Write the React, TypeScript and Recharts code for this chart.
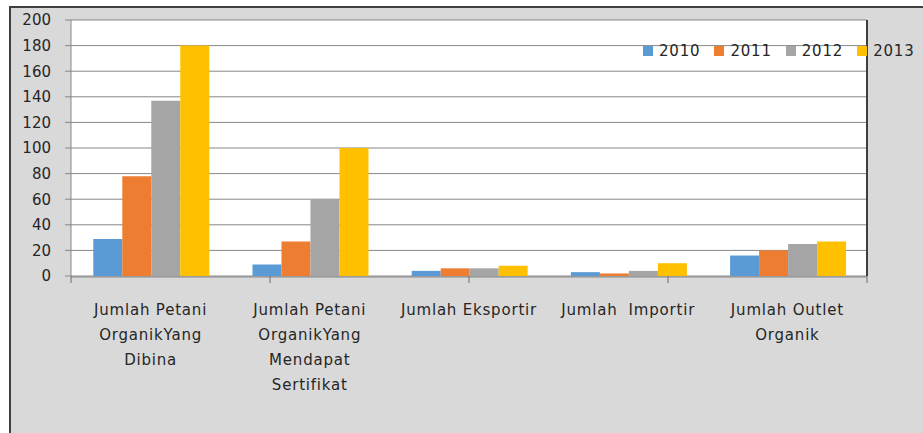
import { Bar, BarChart, CartesianGrid, Legend, XAxis, YAxis } from "recharts";

const categories = [
  "Jumlah Petani\nOrganikYang\nDibina",
  "Jumlah Petani\nOrganikYang\nMendapat\nSertifikat",
  "Jumlah Eksportir",
  "Jumlah  Importir",
  "Jumlah Outlet\nOrganik",
];
const years = ["2010", "2011", "2012", "2013"];
const values2010 = [29, 9, 4, 3, 16];
const values2011 = [78, 27, 6, 2, 20];
const values2012 = [137, 60, 6, 4, 25];
const values2013 = [180, 100, 8, 10, 27];
const yTicks = [0, 20, 40, 60, 80, 100, 120, 140, 160, 180, 200];
const boundaryTicks = [0, 1, 2, 3, 4, 5];

const colors = ["#5B9BD5", "#ED7D31", "#A5A5A5", "#FFC000"];
const font = "'DejaVu Sans', sans-serif";
const textColor = "#262626";

const data = categories.map((name, i) => ({
  name,
  "2010": values2010[i],
  "2011": values2011[i],
  "2012": values2012[i],
  "2013": values2013[i],
}));

const CategoryTick = ({ x, y, payload }: any) => {
  const lines = String(payload.value).split("\n");
  return (
    <text
      x={x}
      y={y + 36}
      textAnchor="middle"
      fill={textColor}
      fontFamily={font}
      fontSize={15}
      letterSpacing={0.8}
      style={{ whiteSpace: "pre" }}
    >
      {lines.map((line, i) => (
        <tspan key={i} x={x} dy={i === 0 ? 0 : 25}>
          {line}
        </tspan>
      ))}
    </text>
  );
};

const EmptyTick = () => <g />;

const LegendContent = () => (
  <div style={{ display: "flex", alignItems: "center", fontFamily: font, fontSize: 15, color: textColor, letterSpacing: 0.8 }}>
    {years.map((y, i) => (
      <div key={y} style={{ display: "flex", alignItems: "center", marginRight: 14 }}>
        <span style={{ display: "inline-block", width: 10, height: 10, background: colors[i], marginRight: 6 }} />
        <span>{y}</span>
      </div>
    ))}
  </div>
);

export default function App() {
  return (
    <div style={{ position: "absolute", left: 0, top: 0, width: 923, height: 433, background: "#fff", overflow: "hidden" }}>
      <div
        style={{
          position: "absolute",
          left: 9,
          top: 6,
          width: 940,
          height: 450,
          background: "#d9d9d9",
          borderLeft: "2px solid #404040",
          borderTop: "2px solid #404040",
        }}
      />
      <div style={{ position: "absolute", left: 0, top: 0 }}>
        <BarChart
          width={923}
          height={433}
          data={data}
          margin={{ top: 20, right: 55, bottom: 27, left: 11 }}
          barCategoryGap="14%"
          barGap={0}
        >
          <CartesianGrid fill="#ffffff" fillOpacity={1} vertical={false} stroke="#878787" strokeWidth={1} />
          <XAxis
            xAxisId="cat"
            dataKey="name"
            interval={0}
            tick={<CategoryTick />}
            tickLine={false}
            tickSize={0}
            axisLine={{ stroke: "#878787" }}
            height={129}
          />
          <XAxis
            xAxisId="0"
            type="number"
            domain={[0, 5]}
            ticks={boundaryTicks}
            tick={<EmptyTick />}
            tickSize={7}
            tickLine={{ stroke: "#6f6f6f" }}
            axisLine={false}
            height={1}
          />
          <YAxis
            domain={[0, 200]}
            ticks={yTicks}
            interval={0}
            width={60}
            tickSize={6}
            tickMargin={14}
            tickLine={{ stroke: "#878787" }}
            axisLine={{ stroke: "#878787" }}
            tick={{ fill: textColor, fontFamily: font, fontSize: 15 }}
          />
          <YAxis
            yAxisId="frame"
            orientation="right"
            domain={[0, 200]}
            width={1}
            tick={false}
            tickLine={false}
            axisLine={{ stroke: "#3f3f3f", strokeWidth: 2 }}
          />
          <Legend
            layout="horizontal"
            verticalAlign="middle"
            align="center"
            content={<LegendContent />}
            wrapperStyle={{ left: 643, top: 42, width: 300, height: 20 }}
          />
          {years.map((y, i) => (
            <Bar key={y} xAxisId="cat" dataKey={y} fill={colors[i]} isAnimationActive={false} />
          ))}
        </BarChart>
      </div>
    </div>
  );
}
